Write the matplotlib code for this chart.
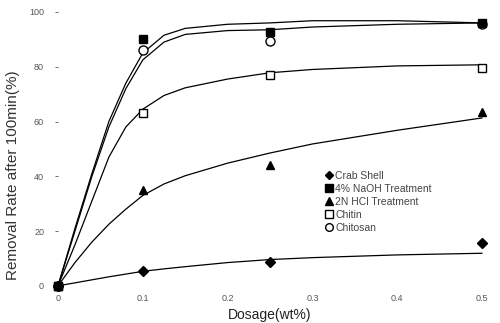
import matplotlib.pyplot as plt

plt.rcParams['font.family'] = ['Liberation Sans', 'DejaVu Sans']

# measured dosages and removal rates
dosage = [0, 0.1, 0.25, 0.5]
crab_shell = [0, 5.5, 8.8, 15.7]
naoh = [0, 90, 92.5, 96]
hcl = [0, 35, 44, 63.5]
chitin = [0, 63, 77, 79.6]
chitosan = [0, 86, 89.5, 95.5]

# fitted curves
fit_x = [0, 0.02, 0.04, 0.06, 0.08, 0.1, 0.125, 0.15, 0.2, 0.25, 0.3, 0.4, 0.5]
fit_crab = [0, 1.1, 2.2, 3.3, 4.3, 5.3, 6.2, 7.0, 8.5, 9.6, 10.3, 11.3, 11.9]
fit_naoh = [0, 21, 41, 60, 74, 85, 91.5, 94, 95.5, 96, 96.8, 96.8, 96]
fit_hcl = [0, 8.5, 16, 22.5, 28, 33, 37.2, 40.2, 44.8, 48.5, 51.8, 56.8, 61.3]
fit_chitin = [0, 15, 31, 47, 58, 64.5, 69.5, 72.3, 75.5, 77.8, 79, 80.3, 80.7]
fit_chitosan = [0, 20, 40, 58, 72, 82.5, 89, 91.8, 93.2, 93.5, 94.5, 95.5, 96]

xticks = [0, 0.1, 0.2, 0.3, 0.4, 0.5]
xtick_labels = ['0', '0.1', '0.2', '0.3', '0.4', '0.5']
yticks = [0, 20, 40, 60, 80, 100]

fig = plt.figure(figsize=(5, 3.23), dpi=100)
ax = fig.add_axes([0.116, 0.115, 0.848, 0.848])

for fy in [fit_crab, fit_naoh, fit_hcl, fit_chitin, fit_chitosan]:
    ax.plot(fit_x, fy, color='black', lw=0.9, clip_on=False)

ax.plot(dosage, crab_shell, 'D', color='black', ms=5, ls='none',
        clip_on=False, label='Crab Shell')
# NaOH squares above the chitosan circles where they overlap at 0.5
ax.plot(dosage, naoh, 's', color='black', ms=6, ls='none', zorder=4,
        clip_on=False, label='4% NaOH Treatment')
ax.plot(dosage, hcl, '^', color='black', ms=6, ls='none',
        clip_on=False, label='2N HCl Treatment')
ax.plot(dosage, chitin, 's', mfc='white', mec='black', mew=1, ms=6,
        ls='none', clip_on=False, label='Chitin')
ax.plot(dosage, chitosan, 'o', mfc='white', mec='black', mew=1, ms=6.5,
        ls='none', clip_on=False, label='Chitosan')

ax.set_xlim(0, 0.5)
ax.set_ylim(0, 100)
for s in ax.spines.values():
    s.set_visible(False)

ax.set_xticks(xticks)
ax.set_xticklabels(xtick_labels)
ax.set_yticks(yticks)
ax.tick_params(axis='both', colors='#555555', labelsize=6.5, length=2,
               width=0.6)
ax.tick_params(axis='x', length=0, pad=6)
ax.tick_params(axis='y', pad=8)

ax.set_xlabel('Dosage(wt%)', fontsize=10, color='#222222')
ax.xaxis.set_label_coords(0.5, -0.082)
ax.set_ylabel('Removal Rate after 100min(%)', fontsize=11,
              color='#333333')
ax.yaxis.set_label_coords(-0.09, 0.405)

leg = ax.legend(loc='upper left', bbox_to_anchor=(0.62, 0.44), frameon=False,
                fontsize=7.5, handlelength=0.6, handletextpad=0.3,
                labelspacing=0.3, borderpad=0, markerscale=0.85)
for t in leg.get_texts():
    t.set_color('#444444')

fig.savefig('out.png', dpi=100)
